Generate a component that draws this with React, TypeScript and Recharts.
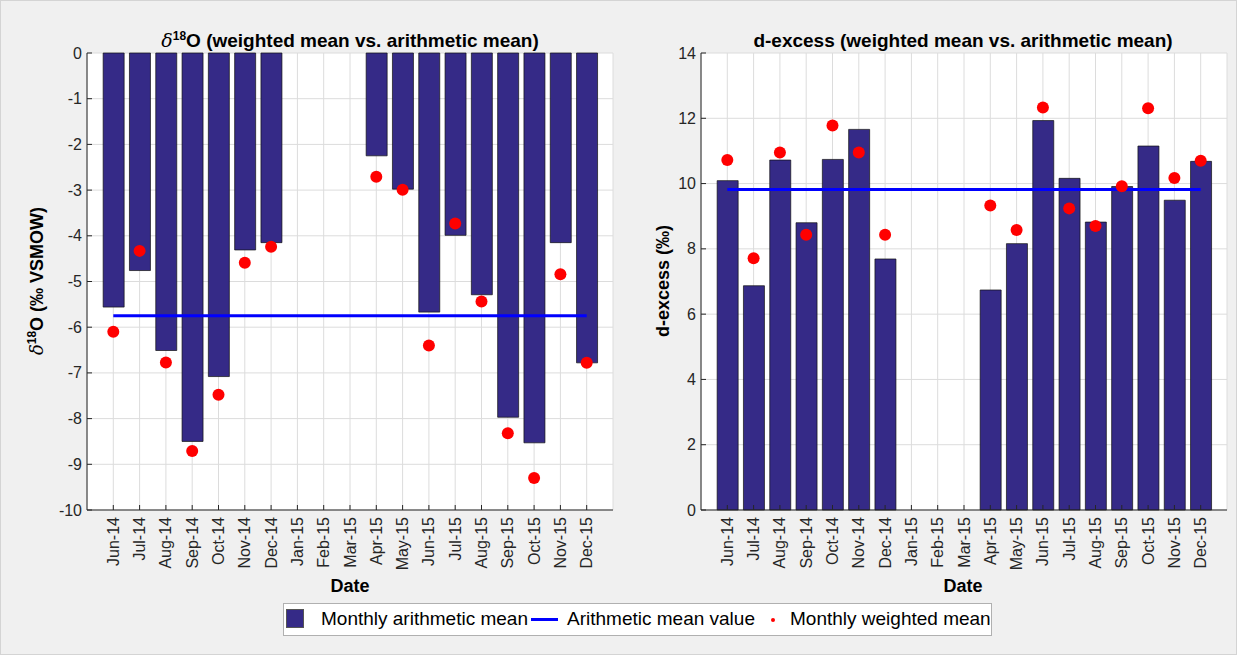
import React from "react";
import {
  ComposedChart,
  Bar,
  Line,
  Scatter,
  XAxis,
  YAxis,
  CartesianGrid,
} from "recharts";

const months = [
  "Jun-14", "Jul-14", "Aug-14", "Sep-14", "Oct-14", "Nov-14", "Dec-14",
  "Jan-15", "Feb-15", "Mar-15", "Apr-15", "May-15", "Jun-15", "Jul-15",
  "Aug-15", "Sep-15", "Oct-15", "Nov-15", "Dec-15",
];

// d18O monthly arithmetic mean (bars) and weighted mean (dots)
const d18oArith = [
  -5.56, -4.76, -6.51, -8.5, -7.08, -4.31, -4.15, null, null, null,
  -2.25, -2.98, -5.67, -3.99, -5.29, -7.97, -8.53, -4.15, -6.78,
];
const d18oWeighted = [
  -6.1, -4.33, -6.77, -8.71, -7.48, -4.59, -4.24, null, null, null,
  -2.71, -2.99, -6.4, -3.73, -5.44, -8.32, -9.3, -4.84, -6.78,
];
const d18oMean = -5.75;
const d18oTicks = [0, -1, -2, -3, -4, -5, -6, -7, -8, -9, -10];

// d-excess
const dexArith = [
  10.09, 6.87, 10.72, 8.8, 10.74, 11.66, 7.69, null, null, null,
  6.74, 8.16, 11.93, 10.16, 8.82, 9.91, 11.15, 9.49, 10.68,
];
const dexWeighted = [
  10.72, 7.71, 10.95, 8.43, 11.78, 10.95, 8.43, null, null, null,
  9.33, 8.58, 12.33, 9.24, 8.7, 9.92, 12.31, 10.17, 10.7,
];
const dexMean = 9.82;
const dexTicks = [0, 2, 4, 6, 8, 10, 12, 14];

const xTicks = months.map((_, i) => i + 1);

const BAR = "#352a87";
const AXIS = "#262626";
const FONT = "'Liberation Sans', Arial, sans-serif";

const buildRows = (arith: (number | null)[], weighted: (number | null)[], mean: number) =>
  months.map((m, i) => ({ x: i + 1, label: m, arith: arith[i], weighted: weighted[i], mean }));

const BottomTick = (props: any) => {
  const { x, y, payload } = props;
  return (
    <g>
      <line x1={x} x2={x} y1={y - 7} y2={y - 12} stroke={AXIS} />
      <text
        x={x}
        y={y}
        transform={`rotate(-90 ${x} ${y})`}
        textAnchor="end"
        dy={5.5}
        fontSize={16}
        fontFamily={FONT}
        fill={AXIS}
      >
        {months[payload.value - 1]}
      </text>
    </g>
  );
};

const TopTick = (props: any) => {
  const { x, y } = props;
  return <line x1={x} x2={x} y1={y} y2={y + 5} stroke={AXIS} />;
};

const LeftTick = (props: any) => {
  const { x, y, payload } = props;
  return (
    <g>
      <line x1={x + 5} x2={x + 10} y1={y} y2={y} stroke={AXIS} />
      <text x={x} y={y} dy={5.5} textAnchor="end" fontSize={16} fontFamily={FONT} fill={AXIS}>
        {payload.value}
      </text>
    </g>
  );
};

const RightTick = (props: any) => {
  const { x, y } = props;
  return <line x1={x - 5} x2={x} y1={y} y2={y} stroke={AXIS} />;
};

const Dot = (props: any) => <circle cx={props.cx} cy={props.cy} r={6} fill="#ff0000" />;

type PanelProps = {
  rows: any[];
  domain: [number, number];
  ticks: number[];
  width: number;
  right: number;
};

const Panel: React.FC<PanelProps> = ({ rows, domain, ticks, width, right }) => {
  const pts = rows.filter((r) => r.weighted !== null);
  return (
    <ComposedChart
      width={width}
      height={600}
      data={rows}
      margin={{ top: 53, right, left: 0, bottom: 0 }}
    >
      <CartesianGrid stroke="#dcdcdc" fill="#ffffff" />
      <XAxis
        dataKey="x"
        type="number"
        domain={[0, 20]}
        ticks={xTicks}
        interval={0}
        height={90}
        tickSize={0}
        tickMargin={7}
        tick={<BottomTick />}
        axisLine={{ stroke: AXIS }}
      />
      <XAxis
        xAxisId="top"
        orientation="top"
        dataKey="x"
        type="number"
        domain={[0, 20]}
        ticks={xTicks}
        interval={0}
        height={0}
        tickSize={0}
        tickMargin={0}
        tick={<TopTick />}
        axisLine={{ stroke: AXIS }}
      />
      <YAxis
        type="number"
        domain={domain}
        ticks={ticks}
        interval={0}
        width={87}
        tickSize={0}
        tickMargin={5}
        tick={<LeftTick />}
        axisLine={{ stroke: AXIS }}
      />
      <YAxis
        yAxisId="right"
        orientation="right"
        type="number"
        domain={domain}
        ticks={ticks}
        interval={0}
        width={0}
        tickSize={0}
        tickMargin={0}
        tick={<RightTick />}
        axisLine={{ stroke: AXIS }}
      />
      <Bar
        dataKey="arith"
        barSize={21}
        fill={BAR}
        stroke="#111"
        strokeWidth={0.7}
        isAnimationActive={false}
      />
      <Line
        dataKey="mean"
        stroke="#0000ff"
        strokeWidth={3}
        dot={false}
        activeDot={false}
        isAnimationActive={false}
      />
      <Scatter data={pts} dataKey="weighted" shape={<Dot />} isAnimationActive={false} />
    </ComposedChart>
  );
};

const centered = (left: number, top: number, extra: React.CSSProperties = {}): React.CSSProperties => ({
  position: "absolute",
  left,
  top,
  transform: "translate(-50%, -50%)",
  whiteSpace: "nowrap",
  fontFamily: FONT,
  fontSize: 18,
  fontWeight: "bold",
  color: "#000",
  lineHeight: 1.2,
  ...extra,
});

const Delta = () => (
  <span style={{ fontFamily: "'DejaVu Serif', serif", fontStyle: "italic", fontWeight: "normal" }}>δ</span>
);

const legendText: React.CSSProperties = { position: "absolute", top: 4, lineHeight: "22px" };

const App: React.FC = () => {
  const leftRows = buildRows(d18oArith, d18oWeighted, d18oMean);
  const rightRows = buildRows(dexArith, dexWeighted, dexMean);
  return (
    <div
      style={{
        position: "absolute",
        left: 0,
        top: 0,
        width: 1235,
        height: 653,
        background: "#f0f0f0",
        border: "1px solid #d4d4d4",
        overflow: "hidden",
      }}
    >
      <div style={{ position: "absolute", left: -1, top: -1 }}>
        <Panel rows={leftRows} domain={[-10, 0]} ticks={d18oTicks} width={640} right={27} />
      </div>
      <div style={{ position: "absolute", left: 613, top: -1 }}>
        <Panel rows={rightRows} domain={[0, 14]} ticks={dexTicks} width={623} right={10} />
      </div>

      <div style={centered(349, 40, { fontSize: 19 })}>
        <Delta />
        <sup style={{ fontSize: 12 }}>18</sup>O (weighted mean vs. arithmetic mean)
      </div>
      <div style={centered(962, 40, { fontSize: 19 })}>d-excess (weighted mean vs. arithmetic mean)</div>

      <div style={centered(36, 280, { transform: "translate(-50%, -50%) rotate(-90deg)" })}>
        <Delta />
        <sup style={{ fontSize: 12 }}>18</sup>O (‰ VSMOW)
      </div>
      <div style={centered(663, 280, { transform: "translate(-50%, -50%) rotate(-90deg)" })}>
        d-excess (‰)
      </div>

      <div style={centered(349, 586)}>Date</div>
      <div style={centered(962, 586)}>Date</div>

      <div
        style={{
          position: "absolute",
          left: 282,
          top: 602,
          width: 707,
          height: 31,
          background: "#fff",
          border: "1px solid #b0b0b0",
          fontFamily: FONT,
          fontSize: 19,
          color: "#000",
        }}
      >
        <div
          style={{
            position: "absolute",
            left: 2,
            top: 5,
            width: 18,
            height: 19,
            background: BAR,
            border: "1px solid #555",
            boxSizing: "border-box",
          }}
        />
        <span style={{ ...legendText, left: 37 }}>Monthly arithmetic mean</span>
        <div style={{ position: "absolute", left: 247, top: 14, width: 27, height: 3, background: "#0000ff" }} />
        <span style={{ ...legendText, left: 283 }}>Arithmetic mean value</span>
        <div
          style={{
            position: "absolute",
            left: 487,
            top: 14,
            width: 4,
            height: 4,
            borderRadius: 2,
            background: "#ff0000",
          }}
        />
        <span style={{ ...legendText, left: 506 }}>Monthly weighted mean</span>
      </div>
    </div>
  );
};

export default App;
